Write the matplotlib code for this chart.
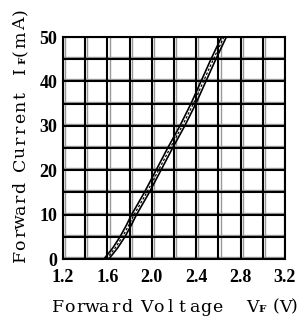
import numpy as np
import matplotlib
matplotlib.use('Agg')
import matplotlib.pyplot as plt

# ---- data ----
current_mA = [0, 2.5, 5, 7.5, 10, 15, 20, 25, 30, 35, 40, 45, 50]
volt_mid = [1.59, 1.67, 1.735, 1.79, 1.84, 1.955, 2.06, 2.165, 2.275, 2.375, 2.465, 2.555, 2.65]
volt_low = [v - 0.022 for v in volt_mid]
volt_high = [v + 0.022 for v in volt_mid]

x_ticks = [1.2, 1.6, 2.0, 2.4, 2.8, 3.2]
y_ticks = [0, 10, 20, 30, 40, 50]
x_grid = np.arange(1.2, 3.21, 0.2)
y_grid = np.arange(0, 51, 5)

W, H = 299, 319


def spaced_text(fig, s, x0, y0, adv, size, rot=0, weight='normal'):
    # draw each glyph in its own fixed-width cell (typewriter look), pixel coords
    for i, ch in enumerate(s):
        if ch == ' ':
            continue
        if rot == 0:
            x, y = x0 + (i + 0.5) * adv, y0
        else:
            x, y = x0, y0 - (i + 0.5) * adv
        fig.text(x / W, 1 - y / H, ch, family='DejaVu Serif', fontsize=size,
                 fontweight=weight, ha='center', va='baseline', rotation=rot,
                 rotation_mode='anchor')


fig = plt.figure(figsize=(W / 100, H / 100), dpi=100)
ax = fig.add_axes([0.211, 0.188, 0.742, 0.696])

# grid: black line with a grey shadow next to it
for xv in x_grid:
    ax.axvline(xv + 0.02, color='#999999', lw=1.0, zorder=1)
    ax.axvline(xv, color='black', lw=1.5, zorder=2)
for yv in y_grid:
    ax.axhline(yv + 0.45, color='#999999', lw=1.0, zorder=1)
    ax.axhline(yv, color='black', lw=1.5, zorder=2)

ax.plot(volt_low, current_mA, color='black', lw=1.2, zorder=3)
ax.plot(volt_mid, current_mA, color='black', lw=0.9, ls=(0, (2, 1.5)), zorder=3)
ax.plot(volt_high, current_mA, color='black', lw=1.2, zorder=3)

ax.set_xlim(1.2, 3.2)
ax.set_ylim(0, 50)
ax.set_xticks(x_ticks)
ax.set_yticks(y_ticks)
ax.set_xticklabels(['%.1f' % t for t in x_ticks])
for s in ax.spines.values():
    s.set_linewidth(1.5)
ax.tick_params(axis='x', length=0, pad=7)
ax.tick_params(axis='y', length=0, pad=4)
for lab in ax.get_xticklabels() + ax.get_yticklabels():
    lab.set_family('Liberation Serif')
    lab.set_fontweight('bold')
    lab.set_fontsize(13)

# x label: Forward Voltage VF (V)
spaced_text(fig, 'Forward', 52, 311.5, 11.5, 12.5)
spaced_text(fig, 'Voltage', 141, 311.5, 11.8, 12.5)
spaced_text(fig, 'V', 247, 311.5, 11.0, 12.5)
spaced_text(fig, 'F', 258, 311.5, 9.0, 7.5, weight='bold')
spaced_text(fig, '(V)', 272, 311.5, 8.8, 12.5)

# y label: Forward Current IF(mA)
spaced_text(fig, 'Forward', 25, 262, 11.5, 12.5, rot=90)
spaced_text(fig, 'Current', 25, 170, 11.5, 12.5, rot=90)
spaced_text(fig, 'I', 25, 76, 11.0, 12.5, rot=90)
spaced_text(fig, 'F', 25, 65, 9.0, 7.5, rot=90, weight='bold')
for ch, yc in zip('(mA)', [52.5, 40, 24, 12]):
    spaced_text(fig, ch, 25, yc, 0.0, 12.5, rot=90)

plt.savefig('out.png', dpi=100)
